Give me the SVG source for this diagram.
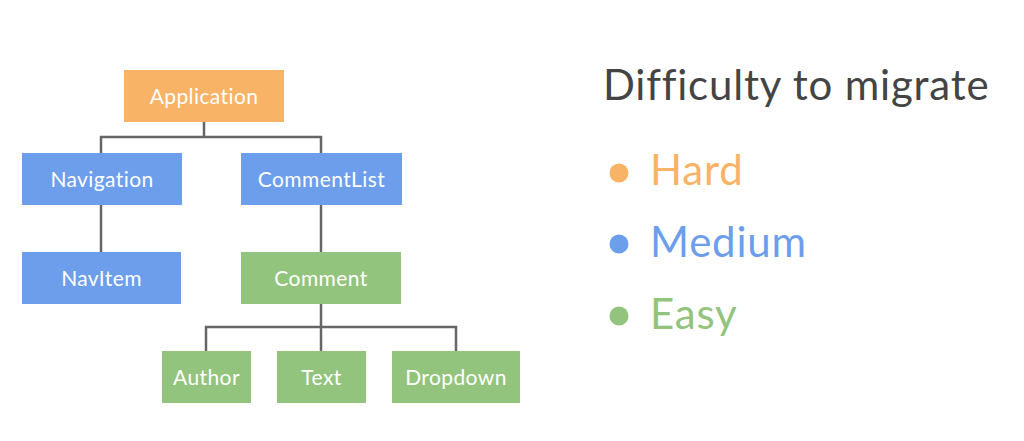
<svg xmlns="http://www.w3.org/2000/svg" width="1024" height="441" viewBox="0 0 1024 441">
<style>
.n text{font-family:Lato,"Open Sans",sans-serif;font-size:21px;letter-spacing:0.4px;fill:#fff;text-anchor:middle;dominant-baseline:central;font-variant-ligatures:none}
.o rect{fill:#F8B366}
.b rect{fill:#6D9EEB}
.g rect{fill:#93C47D}
#connectors path{fill:none;stroke:#666;stroke-width:2.5}
.leg{font-family:Lato,"Open Sans",sans-serif;font-size:42px;letter-spacing:0.8px;font-variant-ligatures:none}
</style>
<rect width="1024" height="441" fill="#fff"/>
<g id="connectors">
<path d="M204 122V137M101 153V137H321V153"/>
<path d="M101 205V252"/>
<path d="M321 205V252"/>
<path d="M321 304V351M206 351V327H456V351"/>
</g>
<g id="application" class="n o"><rect x="124" y="70" width="160" height="52"/><text x="204" y="95">Application</text></g>
<g id="navigation" class="n b"><rect x="22" y="153" width="160" height="52"/><text x="102" y="178">Navigation</text></g>
<g id="commentlist" class="n b"><rect x="241" y="153" width="161" height="52"/><text x="321.5" y="178">CommentList</text></g>
<g id="navitem" class="n b"><rect x="22" y="252" width="159" height="52"/><text x="101.5" y="277">NavItem</text></g>
<g id="comment" class="n g"><rect x="241" y="252" width="160" height="52"/><text x="321" y="277">Comment</text></g>
<g id="author" class="n g"><rect x="162" y="351" width="89" height="52"/><text x="206.5" y="376">Author</text></g>
<g id="text" class="n g"><rect x="277" y="351" width="89" height="52"/><text x="321.5" y="376">Text</text></g>
<g id="dropdown" class="n g"><rect x="392" y="351" width="128" height="52"/><text x="456" y="376">Dropdown</text></g>
<g id="legend">
<text class="leg" x="603" y="100" fill="#444">Difficulty to migrate</text>
<circle cx="619" cy="173" r="9.5" fill="#F8B366"/>
<text class="leg" x="650" y="185" fill="#F8B366">Hard</text>
<circle cx="619" cy="244" r="9.5" fill="#6D9EEB"/>
<text class="leg" x="650" y="257" fill="#6D9EEB">Medium</text>
<circle cx="619" cy="316" r="9.5" fill="#93C47D"/>
<text class="leg" x="650" y="329" fill="#93C47D">Easy</text>
</g>
</svg>
